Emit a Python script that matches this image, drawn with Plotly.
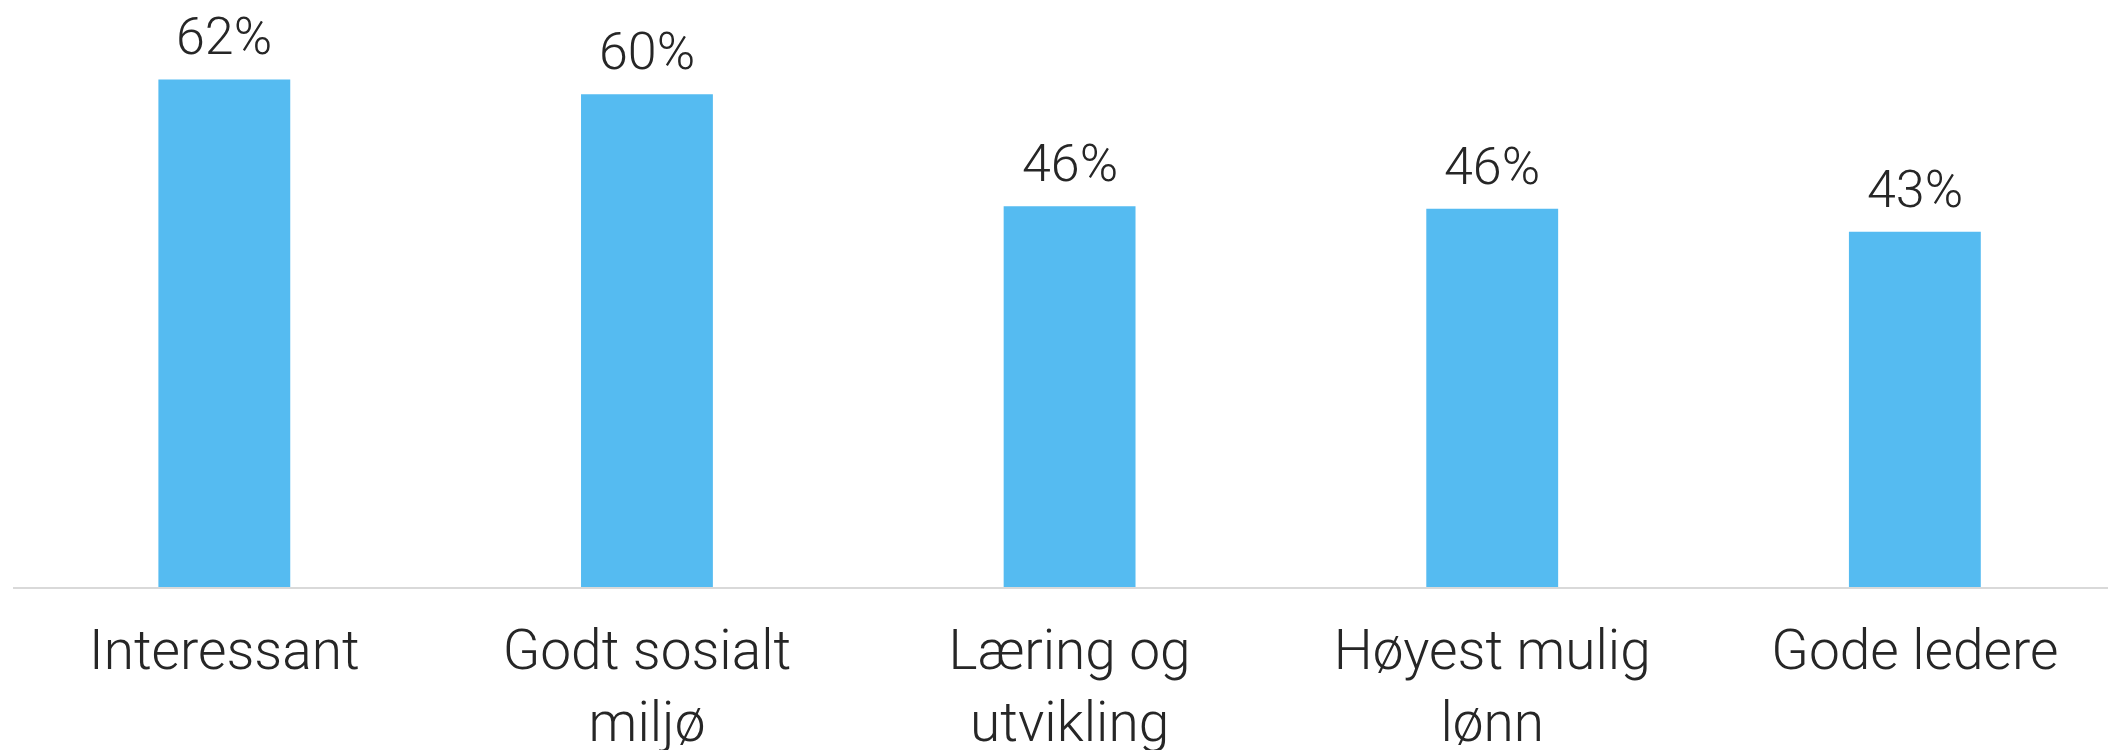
import plotly.graph_objects as go

categories = ["Interessant", "Godt sosialt<br>miljø", "Læring og<br>utvikling", "Høyest mulig<br>lønn", "Gode ledere"]
values = [62.0, 60.2, 46.5, 46.2, 43.4]
labels = ["62%", "60%", "46%", "46%", "43%"]

BAR = "#55BBF1"
TXT = "#262626"
FONT = "Roboto Light, Roboto"

fig = go.Figure(go.Bar(x=categories, y=values, marker=dict(color=BAR, line=dict(width=0)),
                       hoverinfo="skip"))

for c, v, t in zip(categories, values, labels):
    fig.add_annotation(x=c, y=v, text=t, showarrow=False, yanchor="bottom", yshift=10,
                       font=dict(family=FONT, size=52, color=TXT, weight=300))

fig.update_layout(
    width=2108, height=750,
    margin=dict(l=13, r=0, t=0, b=163),
    paper_bgcolor="white", plot_bgcolor="white",
    bargap=0.688,
    showlegend=False,
    xaxis=dict(range=[-0.5, 4.457], showgrid=False, zeroline=False, showline=True,
               linecolor="#d9d9d9", linewidth=2, ticks="", ticklabelstandoff=14,
               automargin=False,
               tickfont=dict(family=FONT, size=55, color=TXT, weight=300)),
    yaxis=dict(range=[0, 71.7], visible=False, showgrid=False, zeroline=False),
)

fig.write_html("out.html", config={"displayModeBar": False},
               post_script="document.body.style.margin='0';document.body.style.overflow='hidden';")
